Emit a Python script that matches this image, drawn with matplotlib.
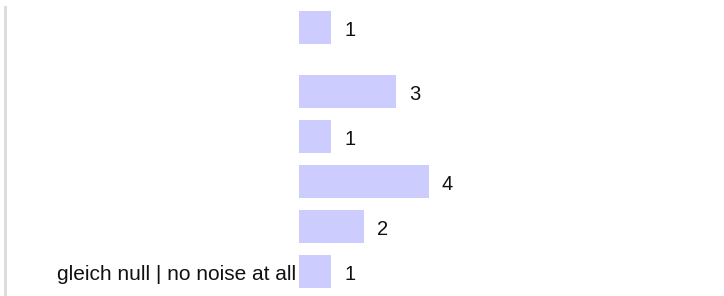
import matplotlib.pyplot as plt

# Datos
categorias = ['', '', '', '', '', 'gleich null | no noise at all']
valores = [1, 3, 1, 4, 2, 1]
posiciones = [5.42, 4, 3, 2, 1, 0]

plt.rcParams['font.family'] = ['Liberation Sans', 'DejaVu Sans']

fig = plt.figure(figsize=(7.24, 2.96), dpi=100)
ax = fig.add_axes([0, 0, 1, 1])

ax.barh(posiciones, valores, height=0.733, color='#ccccff')

# etiquetas de valores
for p, v in zip(posiciones, valores):
    ax.annotate(str(v), xy=(v, p), xytext=(9.5, -2.5), textcoords='offset points',
                ha='left', va='center', fontsize=14.5, color='#111111')

# etiquetas de categorias
for p, c in zip(posiciones, categorias):
    if c:
        ax.annotate(c, xy=(0, p), xytext=(-2, -2.5), textcoords='offset points',
                    ha='right', va='center', fontsize=15, color='#111111')

ax.axvline(-9.08, ymin=0, ymax=(296 - 7) / 296, color='#dddddd', lw=2.2)

ax.set_xlim(-9.23, 13.12)
ax.set_ylim(-0.549, 6.029)
ax.axis('off')

fig.savefig('out.png', dpi=100)
